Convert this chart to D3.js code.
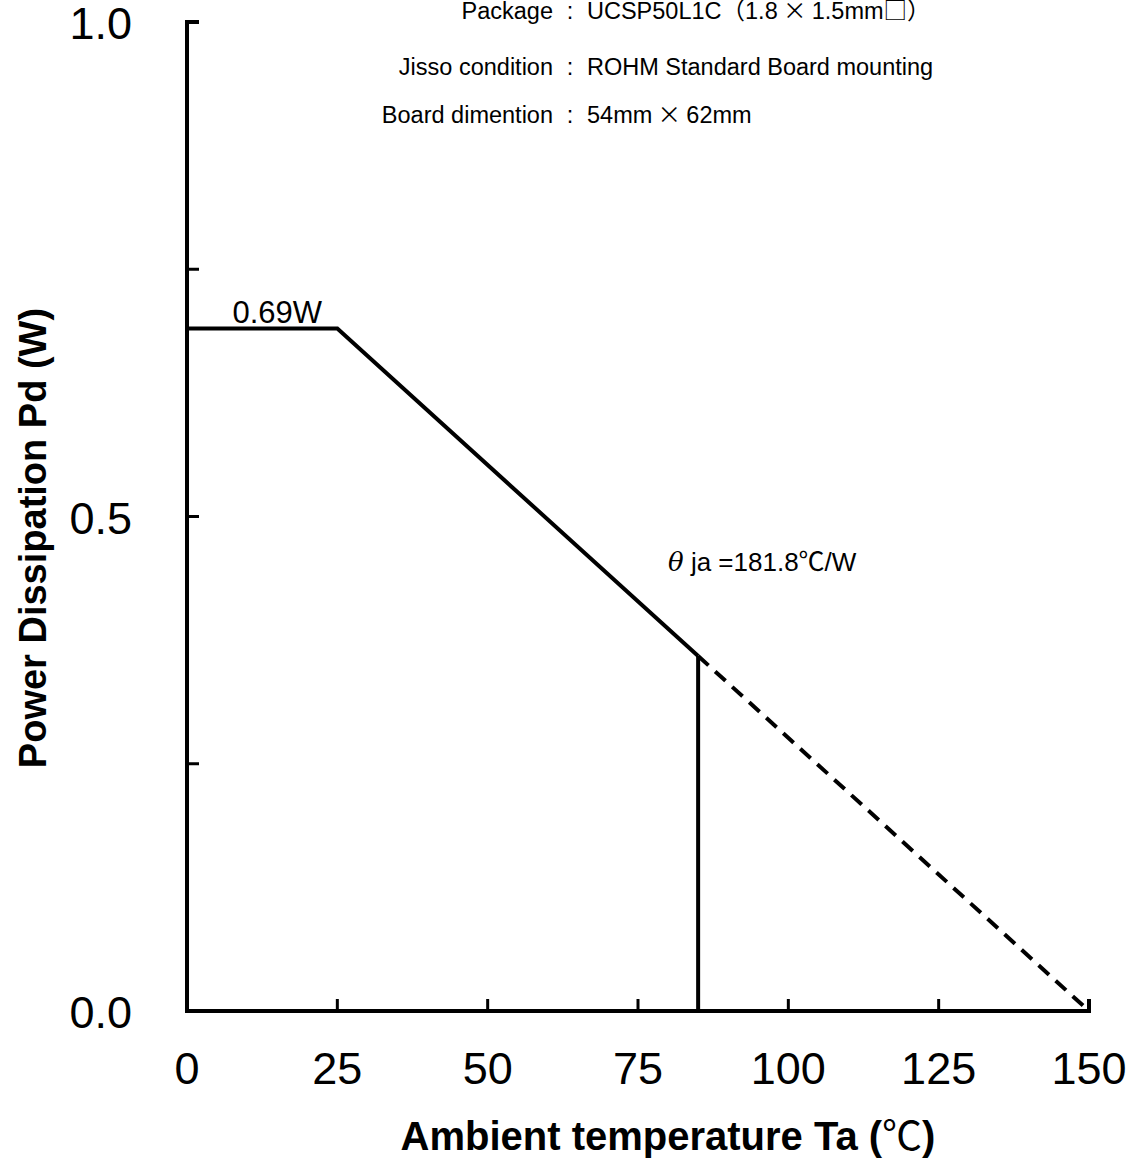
<!DOCTYPE html>
<html>
<head>
<meta charset="utf-8">
<script src="https://cdn.jsdelivr.net/npm/d3@7"></script>
<style>
body { margin: 0; background: #fff; }
text { font-family: "Liberation Sans", Arial, "Noto Sans CJK JP", sans-serif; fill: #000; }
.cjk { font-family: "Noto Sans CJK JP", sans-serif; }
</style>
</head>
<body>
<div id="chart"></div>
<script>
// derating curve: Ta (°C) vs Pd (W)
var solidTa = [0, 25, 85];
var solidPd = [0.69, 0.69, 0.359];
var dashTa = [85, 150];
var dashPd = [0.359, 0];
var xTicks = [0, 25, 50, 75, 100, 125, 150];
var yTicks = [0, 0.25, 0.5, 0.75, 1.0];
var yLabels = ["0.0", "", "0.5", "", "1.0"];
var infoLabels = ["Package", "Jisso condition", "Board dimention"];
var infoValues = ["UCSP50L1C\uff081.8\u00d71.5mm\u25a1\uff09", "ROHM Standard Board mounting", "54mm\u00d762mm"];

var width = 1135, height = 1162;

var svg = d3.select("#chart").append("svg")
    .attr("width", width).attr("height", height);

var x = d3.scaleLinear().domain([0, 150]).range([187, 1089]);
var y = d3.scaleLinear().domain([0, 1]).range([1011, 22]);

//axes lines
svg.append("path")
    .attr("d", "M" + (x(0) + 12) + "," + y(1) + "H" + x(0) + "V" + y(0) + "H" + x(150) + "V" + (y(0) - 12))
    .attr("fill", "none").attr("stroke", "#000").attr("stroke-width", 4);

//x ticks (inward)
svg.selectAll(".xt").data(xTicks.slice(1, -1)).enter().append("line")
    .attr("x1", function (d) { return x(d); }).attr("x2", function (d) { return x(d); })
    .attr("y1", y(0)).attr("y2", y(0) - 12)
    .attr("stroke", "#000").attr("stroke-width", 3);

svg.selectAll(".xl").data(xTicks).enter().append("text")
    .attr("x", function (d) { return x(d); }).attr("y", 1084)
    .attr("text-anchor", "middle").attr("font-size", 45)
    .text(function (d) { return d; });

//y ticks (inward)
svg.selectAll(".yt").data(yTicks.slice(1, -1)).enter().append("line")
    .attr("x1", x(0)).attr("x2", x(0) + 12)
    .attr("y1", function (d) { return y(d); }).attr("y2", function (d) { return y(d); })
    .attr("stroke", "#000").attr("stroke-width", 3);

svg.selectAll(".yl").data(yTicks).enter().append("text")
    .attr("x", 132).attr("y", function (d) { return y(d) + 17; })
    .attr("text-anchor", "end").attr("font-size", 45)
    .text(function (d, i) { return yLabels[i]; });

//axis titles
var xt = svg.append("text").attr("x", 668).attr("y", 1150)
    .attr("text-anchor", "middle").attr("font-size", 40).attr("font-weight", "bold");
xt.append("tspan").text("Ambient temperature Ta (");
xt.append("tspan").attr("class", "cjk").attr("font-weight", "normal").text("\u2103");
xt.append("tspan").text(")");

svg.append("text").attr("transform", "translate(33,538) rotate(-90)")
    .attr("text-anchor", "middle").attr("font-size", 38).attr("font-weight", "bold")
    .attr("dy", "0.35em")
    .text("Power Dissipation Pd (W)");

//curve
var line = d3.line()
    .x(function (d) { return x(d[0]); })
    .y(function (d) { return y(d[1]); });

svg.append("path").datum(d3.zip(solidTa, solidPd))
    .attr("d", line).attr("fill", "none").attr("stroke", "#000")
    .attr("stroke-width", 4).attr("stroke-linejoin", "miter");

svg.append("path").datum(d3.zip(dashTa, dashPd))
    .attr("d", line).attr("fill", "none").attr("stroke", "#000")
    .attr("stroke-width", 4).attr("stroke-dasharray", "14,9");

//vertical line at 85
svg.append("line")
    .attr("x1", x(85)).attr("x2", x(85))
    .attr("y1", y(0)).attr("y2", y(solidPd[2]))
    .attr("stroke", "#000").attr("stroke-width", 4);

//annotations
svg.append("text").attr("x", x(15)).attr("y", 323)
    .attr("text-anchor", "middle").attr("font-size", 31)
    .text("0.69W");

var th = svg.append("text").attr("x", 668).attr("y", 571).attr("font-size", 26);
th.append("tspan").attr("font-family", "'DejaVu Serif', serif").attr("font-style", "italic").text("\u03b8");
th.append("tspan").text(" ja =181.8");
th.append("tspan").attr("class", "cjk").text("\u2103");
th.append("tspan").text("/W");

//package info
var rowY = [19, 75, 123];
var info = svg.selectAll(".info").data(infoLabels).enter().append("g");
info.append("text").attr("x", 553).attr("y", function (d, i) { return rowY[i]; })
    .attr("text-anchor", "end").attr("font-size", 23.5)
    .text(function (d) { return d; });
info.append("text").attr("x", 570).attr("y", function (d, i) { return rowY[i]; })
    .attr("text-anchor", "middle").attr("font-size", 23.5)
    .text(":");
info.append("text").attr("x", 587).attr("y", function (d, i) { return rowY[i]; })
    .attr("font-size", 23.5)
    .each(function (d, i) {
        // × and □ come from the CJK font so they get full width
        var t = d3.select(this);
        infoValues[i].split(/([\u00d7\u25a1])/).forEach(function (p) {
            if (p === "\u00d7") t.append("tspan").attr("class", "cjk").text(" \u00d7 ");
            else if (p === "\u25a1") t.append("tspan").attr("class", "cjk").text(p);
            else if (p) t.append("tspan").text(p);
        });
    });
</script>
</body>
</html>
